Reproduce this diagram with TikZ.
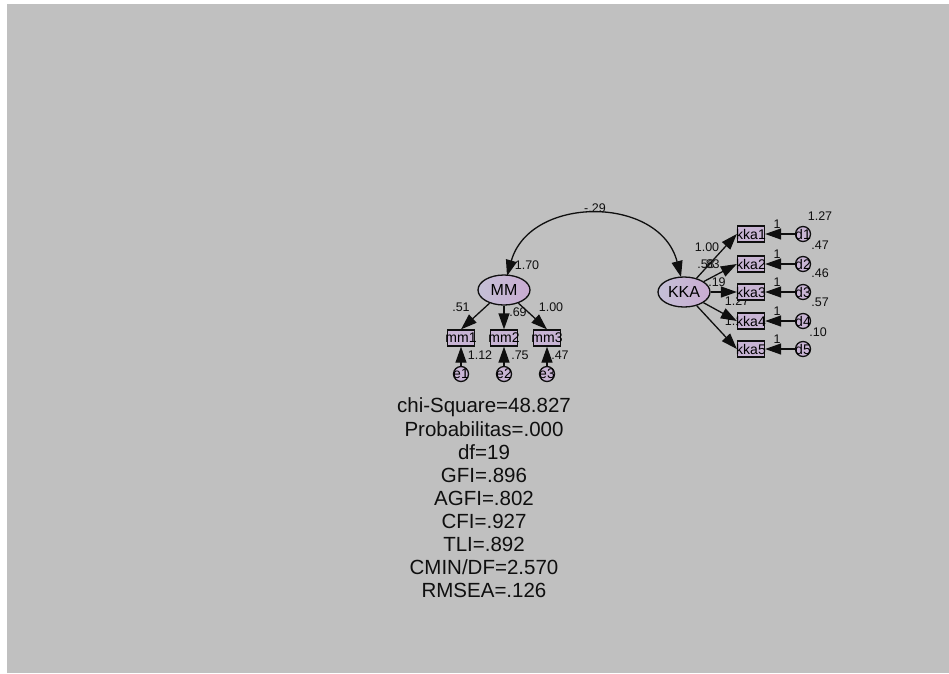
\documentclass[tikz,border=0pt]{standalone}
\usepackage{fontspec}
\setmainfont{Liberation Sans}
\usetikzlibrary{arrows.meta,shapes.geometric}
\definecolor{bggray}{RGB}{192,192,192}
\definecolor{lavL}{RGB}{196,192,214}
\definecolor{lavR}{RGB}{202,172,210}
\definecolor{lav}{RGB}{200,180,212}
\definecolor{ink}{RGB}{15,15,15}
\begin{document}
\begin{tikzpicture}[x=1pt,y=-1pt,
  lat/.style={ellipse, draw=ink, line width=1.3pt, minimum width=52pt, minimum height=30pt,
    inner sep=0pt, left color=lavL, right color=lavR, font=\fontsize{16}{16}\selectfont},
  obs/.style={rectangle, draw=ink, line width=1.3pt, minimum width=27pt, minimum height=16pt,
    inner sep=0pt, fill=lav, font=\fontsize{14}{14}\selectfont},
  err/.style={circle, draw=ink, line width=1.3pt, minimum size=15pt, inner sep=0pt,
    fill=lav, font=\fontsize{14}{14}\selectfont},
  lbl/.style={font=\fontsize{12.5}{12.5}\selectfont, inner sep=0pt, text=ink},
  arr/.style={-{Triangle[length=16pt,width=11pt]}, line width=1.3pt, draw=ink},
  stat/.style={font=\fontsize{20.5}{23.1}\selectfont, align=center, inner sep=0pt, text=ink}]
\fill[white] (0,0) rectangle (949,673);
\fill[bggray] (7,4) rectangle (949,673);
\useasboundingbox (0,0) rectangle (949,673);

% labels drawn first (partly covered by shapes)
\node[lbl] (lv) at (527,265) {1.70};
\node[lbl] (l1) at (461,307) {.51};
\node[lbl] (l2) at (518,312) {.69};
\node[lbl] (l3) at (551,307) {1.00};
\node[lbl] (ve1) at (480,355) {1.12};
\node[lbl] (ve2) at (520,355) {.75};
\node[lbl] (ve3) at (560,355) {.47};
\node[lbl] (cov) at (595,208) {-.29};
\node[lbl] (k1) at (707,247) {1.00};
\node[lbl] (k2a) at (706,264) {.58};
\node[lbl] (k2b) at (711,264) {.83};
\node[lbl] (k3) at (717,282) {.19};
\node[lbl] (k4) at (737,301) {1.27};
\node[lbl] (k5) at (737,321) {1.17};
\node[lbl] (vd1) at (820,216) {1.27};
\node[lbl] (vd2) at (820,245) {.47};
\node[lbl] (vd3) at (820,273) {.46};
\node[lbl] (vd4) at (820,302) {.57};
\node[lbl] (vd5) at (818,332) {.10};
\foreach \i/\y in {1/224,2/254,3/282,4/311,5/339}{
  \node[lbl] (u\i) at (777,\y) {1};
}

% nodes
\node[lat] (MM) at (504,290) {MM};
\node[lat] (KKA) at (684,292) {KKA};
\node[obs] (mm1) at (461,338) {\makebox[0pt]{mm1}};
\node[obs] (mm2) at (504,338) {\makebox[0pt]{mm2}};
\node[obs] (mm3) at (547,338) {\makebox[0pt]{mm3}};
\node[err] (e1) at (461,374) {\makebox[0pt]{e1}};
\node[err] (e2) at (504,374) {\makebox[0pt]{e2}};
\node[err] (e3) at (547,374) {\makebox[0pt]{e3}};
\foreach \i/\y in {1/234,2/264,3/292,4/321,5/349}{
  \node[obs] (kka\i) at (751,\y) {\makebox[0pt]{kka\i}};
  \node[err] (d\i) at (803,\y) {\makebox[0pt]{d\i}};
}

% covariance
\coordinate (cs) at (507,276);
\coordinate (ce) at (681,277);
\draw[line width=1.3pt, draw=ink, {Triangle[length=16pt,width=11pt]}-{Triangle[length=16pt,width=11pt]}]
  (cs) .. controls (530,195) and (660,195) .. (ce);

% loadings
\draw[arr] (MM) -- (mm1.north);
\draw[arr] (MM) -- (mm2.north);
\draw[arr] (MM) -- (mm3.north);
\draw[arr] (e1) -- (mm1);
\draw[arr] (e2) -- (mm2);
\draw[arr] (e3) -- (mm3);
\foreach \i in {1,...,5}{
  \draw[arr] (KKA) -- (kka\i.west);
  \draw[arr] (d\i) -- (kka\i);
}

% fit statistics
\node[stat] (fit) at (484,498) {chi-Square=48.827\\Probabilitas=.000\\df=19\\GFI=.896\\AGFI=.802\\CFI=.927\\TLI=.892\\CMIN/DF=2.570\\RMSEA=.126};
\end{tikzpicture}
\end{document}
